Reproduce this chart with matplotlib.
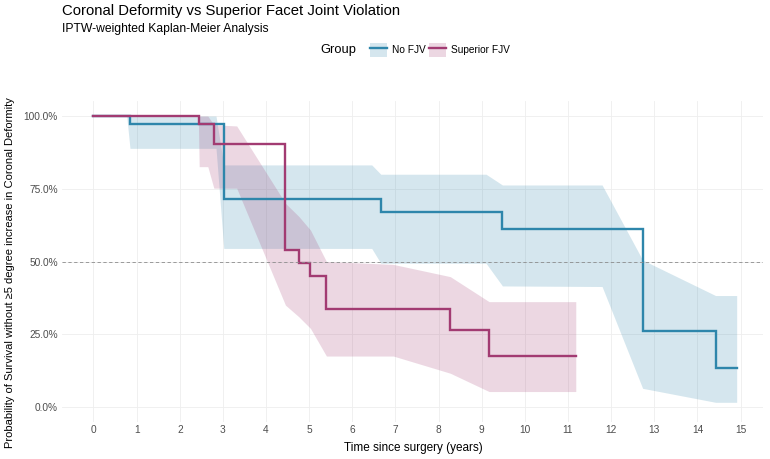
import matplotlib
matplotlib.use("Agg")
import matplotlib.pyplot as plt
from matplotlib.patches import Patch
from matplotlib.lines import Line2D
from matplotlib.ticker import PercentFormatter

plt.rcParams['font.family'] = ['Liberation Sans', 'DejaVu Sans']

# ---- data ----
groups = ["No FJV", "Superior FJV"]
colors = ["#2E86AB", "#A23B72"]

# Kaplan-Meier step curves
nofjv_time = [0, 0.846, 3.02, 6.66, 9.48, 12.73, 14.42, 14.91]
nofjv_surv = [1.0, 0.974, 0.715, 0.671, 0.612, 0.261, 0.133, 0.133]

sfjv_time = [0, 2.45, 2.79, 4.45, 4.76, 5.03, 5.40, 8.27, 9.17, 11.18]
sfjv_surv = [1.0, 0.971, 0.905, 0.540, 0.494, 0.451, 0.338, 0.265, 0.176, 0.176]

# Confidence bands
nofjv_ci_time = [0, 0.77, 0.846, 2.84, 3.02, 6.45, 6.66, 9.10, 9.48, 11.79, 12.73, 14.42, 14.91]
nofjv_ci_low = [1.0, 1.0, 0.889, 0.889, 0.545, 0.545, 0.494, 0.494, 0.416, 0.414, 0.064, 0.016, 0.016]
nofjv_ci_up = [1.0, 1.0, 1.0, 1.0, 0.832, 0.832, 0.80, 0.80, 0.763, 0.763, 0.505, 0.383, 0.383]

sfjv_ci_time = [0, 2.43, 2.45, 2.65, 2.79, 3.32, 4.45, 4.76, 5.03, 5.40, 6.95, 8.27, 9.17, 11.18]
sfjv_ci_low = [1.0, 1.0, 0.826, 0.826, 0.752, 0.752, 0.35, 0.31, 0.27, 0.175, 0.175, 0.116, 0.053, 0.053]
sfjv_ci_up = [1.0, 1.0, 1.0, 1.0, 0.97, 0.966, 0.70, 0.655, 0.608, 0.50, 0.49, 0.448, 0.362, 0.362]

x_ticks = list(range(0, 16))
y_ticks = [0, 0.25, 0.5, 0.75, 1.0]

title = "Coronal Deformity vs Superior Facet Joint Violation"
subtitle = "IPTW-weighted Kaplan-Meier Analysis"
xlabel = "Time since surgery (years)"
ylabel = "Probability of Survival without \u22655 degree increase in Coronal Deformity"

# ---- figure ----
W, H = 770, 459
fig = plt.figure(figsize=(W / 100, H / 100), dpi=100)
L, R, T, B = 62, 763, 101.5, 421.5
ax = fig.add_axes([L / W, 1 - B / H, (R - L) / W, (B - T) / H])

ax.fill_between(nofjv_ci_time, nofjv_ci_low, nofjv_ci_up, color=colors[0], alpha=0.2, linewidth=0)
ax.fill_between(sfjv_ci_time, sfjv_ci_low, sfjv_ci_up, color=colors[1], alpha=0.2, linewidth=0)
ax.step(nofjv_time, nofjv_surv, where='post', color=colors[0], linewidth=1.7, solid_joinstyle='miter')
ax.step(sfjv_time, sfjv_surv, where='post', color=colors[1], linewidth=1.7, solid_joinstyle='miter')
ax.axhline(0.5, color='#8C8C8C', linestyle=(0, (4, 3)), linewidth=0.6)

ax.set_xlim(-0.73, 15.52)
ax.set_ylim(-0.05, 1.05)
ax.set_xticks(x_ticks)
ax.set_yticks(y_ticks)
ax.yaxis.set_major_formatter(PercentFormatter(1.0, decimals=1))
ax.grid(True, color='#EEEEEE', linewidth=0.6)
ax.set_axisbelow(True)
for s in ax.spines.values():
    s.set_visible(False)
ax.tick_params(axis='x', length=0, labelsize=7.3, labelcolor='#4D4D4D', pad=2.5)
ax.tick_params(axis='y', length=0, labelsize=7.3, labelcolor='#4D4D4D', pad=3)

fig.text(413 / W, 1 - 447.5 / H, xlabel, fontsize=8.5, va='center', ha='center')
fig.text(10 / W, 1 - 273 / H, ylabel, fontsize=8.05, va='center', ha='center', rotation=90)

fig.text(L / W, 1 - 11 / H, title, fontsize=10.7, va='center', ha='left')
fig.text(L / W, 1 - 29 / H, subtitle, fontsize=8.7, va='center', ha='left')

fig.text(320 / W, 1 - 50 / H, "Group", fontsize=9.3, va='center', ha='left')
handles = [
    (Patch(facecolor=colors[0], alpha=0.2, edgecolor='none'), Line2D([], [], color=colors[0], linewidth=1.7)),
    (Patch(facecolor=colors[1], alpha=0.2, edgecolor='none'), Line2D([], [], color=colors[1], linewidth=1.7)),
]
fig.legend(handles, groups, loc='center left', bbox_to_anchor=(370 / W, 1 - 50 / H), ncol=2,
           frameon=False, fontsize=7.3, handlelength=1.7, handleheight=1.7, handletextpad=0.5,
           columnspacing=0.25, borderpad=0, borderaxespad=0)

fig.savefig("out.png", dpi=100)
